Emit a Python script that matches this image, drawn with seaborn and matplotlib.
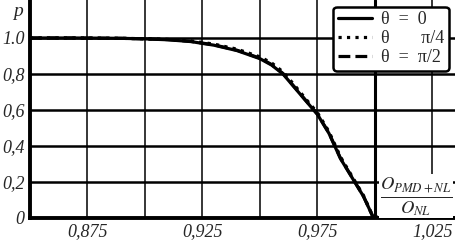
import numpy as np
import pandas as pd
import matplotlib
matplotlib.use("Agg")
import matplotlib.pyplot as plt
import seaborn as sns

# curve values
ratio = [0.85, 0.87, 0.89, 0.90, 0.91, 0.92, 0.93, 0.94, 0.95, 0.955, 0.96, 0.965,
         0.97, 0.975, 0.98, 0.985, 0.99, 0.995, 0.999, 1.002, 1.035]
p_theta0 = [1.0, 1.0, 0.998, 0.995, 0.99, 0.98, 0.96, 0.93, 0.885, 0.85, 0.80, 0.725,
            0.65, 0.575, 0.47, 0.33, 0.225, 0.12, 0.01, 0.0, 0.0]
p_theta45 = [1.0, 1.0, 0.998, 0.996, 0.992, 0.984, 0.966, 0.938, 0.895, 0.862, 0.812, 0.738,
             0.66, 0.585, 0.48, 0.34, 0.232, 0.125, 0.012, 0.0, 0.0]
p_theta90 = [1.0, 1.0, 0.998, 0.995, 0.991, 0.981, 0.962, 0.932, 0.888, 0.853, 0.803, 0.728,
             0.652, 0.577, 0.472, 0.332, 0.227, 0.121, 0.01, 0.0, 0.0]

series_labels = ["θ  =  0", "θ       π/4", "θ  =  π/2"]
x_ticks = [0.875, 0.925, 0.975, 1.025]
x_ticklabels = ["0,875", "0,925", "0,975", "1,025"]
y_ticks = [0, 0.2, 0.4, 0.6, 0.8, 1.0]
y_ticklabels = ["0", "0,2", "0,4", "0,6", "0,8", "1.0"]

df = pd.DataFrame({
    "x": ratio * 3,
    "p": p_theta0 + p_theta45 + p_theta90,
    "theta": [series_labels[0]] * len(ratio) + [series_labels[1]] * len(ratio)
             + [series_labels[2]] * len(ratio),
})

sns.set_style("white")
plt.rcParams["font.family"] = ["Liberation Serif", "DejaVu Serif"]
plt.rcParams["mathtext.fontset"] = "stix"

fig = plt.figure(figsize=(4.55, 2.41), dpi=100)
ax = fig.add_axes([30 / 455, 23 / 241, 425 / 455, 218 / 241])

# grid
for gx in [0.875, 0.9, 0.925, 0.95, 0.975, 1.025]:
    ax.axvline(gx, color="black", lw=1.1, zorder=1)
ax.axvline(1.0, color="black", lw=2.2, zorder=1)
for gy in [0.2, 0.4, 0.6, 0.8, 1.0]:
    ax.axhline(gy, color="black", lw=1.8, zorder=1)

styles = {series_labels[0]: "-", series_labels[1]: ":", series_labels[2]: "--"}
for lab in series_labels:
    sub = df[df["theta"] == lab]
    sns.lineplot(data=sub, x="x", y="p", ax=ax, color="black", lw=2.3,
                 linestyle=styles[lab], label=lab, zorder=3)

ax.set_xlim(0.85, 1.0348)
ax.set_ylim(0, 1.211)
ax.set_xticks(x_ticks)
ax.set_xticklabels(x_ticklabels, fontsize=13, style="italic")
ax.set_yticks(y_ticks)
ax.set_yticklabels(y_ticklabels, fontsize=13, style="italic")
ax.tick_params(length=0, pad=4)
ax.set_xlabel("")
ax.set_ylabel("")

for s in ["top", "right"]:
    ax.spines[s].set_visible(False)
for s in ["left", "bottom"]:
    ax.spines[s].set_linewidth(2.8)
    ax.spines[s].set_color("black")
    ax.spines[s].set_zorder(4)

fig.text(18 / 455, 1 - 12 / 241, "p", fontsize=14, style="italic", ha="center", va="center")

ax.text(1.0178, 0.122, r"$\frac{O_{PMD+NL}}{O_{NL}}$", fontsize=19, ha="center", va="center",
        zorder=5, bbox=dict(facecolor="white", edgecolor="none", pad=0.5))

leg = ax.legend(loc="upper right", fontsize=13, frameon=True, fancybox=True,
                handlelength=1.9, handletextpad=0.5, labelspacing=0.12,
                borderpad=0.25, borderaxespad=0.3, bbox_to_anchor=(0.998, 0.995))
leg.get_frame().set_edgecolor("black")
leg.get_frame().set_linewidth(1.8)
leg.get_frame().set_alpha(1)
leg.set_zorder(6)

fig.savefig("out.png", dpi=100)
